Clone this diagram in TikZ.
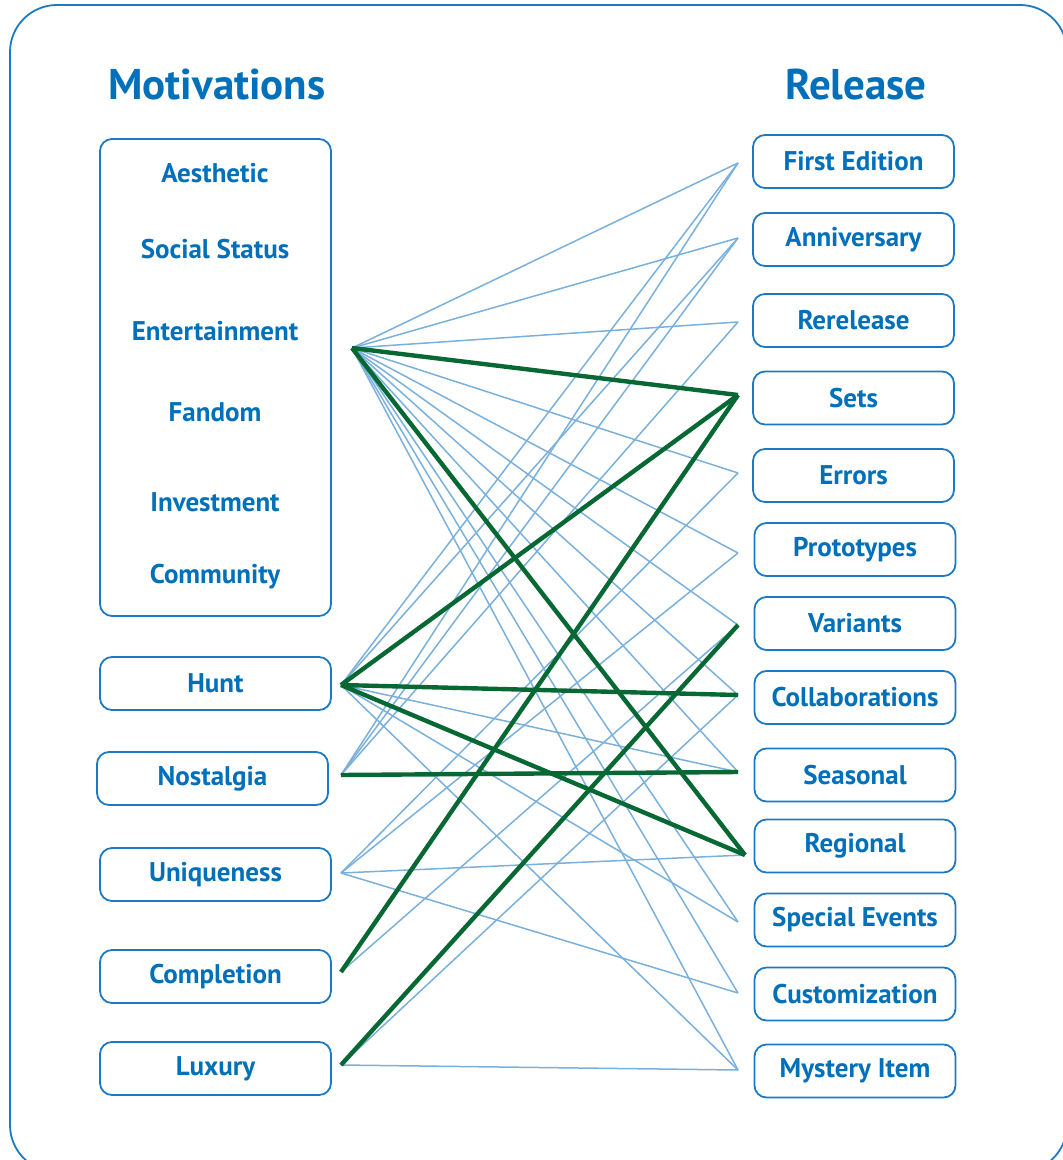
\documentclass[tikz,border=0pt]{standalone}
\usepackage{fontspec}
\setmainfont{PT Sans}
\definecolor{headblue}{RGB}{0,112,186}
\definecolor{boxblue}{RGB}{28,122,196}
\definecolor{linkblue}{RGB}{122,176,220}
\definecolor{linkgreen}{RGB}{8,104,52}
\usetikzlibrary{positioning}

\begin{document}
\begin{tikzpicture}[x=0.5pt,y=-0.5pt,
    head/.style={text=headblue, font=\bfseries\fontsize{21.5}{25}\selectfont},
    label/.style={text=headblue, font=\bfseries\fontsize{13.5}{16}\selectfont},
    item/.style={draw=boxblue, line width=0.9pt, rounded corners=6pt, minimum height=26.5pt, label},
    motitem/.style={item, minimum width=115.5pt},
    relitem/.style={item, minimum width=100.5pt},
    link/.style={draw=linkblue, line width=0.75pt},
    strong/.style={draw=linkgreen, line width=2.2pt}]
    \useasboundingbox (0,0) rectangle (1063,1160);
    % outer frame
    \draw[boxblue, line width=0.9pt, rounded corners=23.5pt] (10,5) rectangle (1067,1172);

    % column heads
    \node[head] (hmot) at (217,85) {Motivations};
    \node[head] (hrel) at (856,85) {Release};

    % grouped motivations
    \node[draw=boxblue, line width=0.9pt, rounded corners=6pt, minimum width=115.5pt, minimum height=238.5pt] (motbox) at (215.5,377.5) {};
    \foreach \n/\t/\y in {aes/Aesthetic/173, soc/Social Status/249, ent/Entertainment/331, fan/Fandom/412, inv/Investment/502, com/Community/577}
        \node[label] (\n) at (215,\y) {\t};
    \coordinate (mot-out) at (352,348);

    % single motivations
    \foreach \n/\t/\x/\y/\a in {hunt/Hunt/215.5/683.5/685, nost/Nostalgia/212.5/778.5/775, uniq/Uniqueness/215.5/874.5/873, comp/Completion/215.5/976.5/972, lux/Luxury/215.5/1068.5/1065} {
        \node[motitem] (\n) at (\x,\y) {\t};
        \coordinate (\n-out) at (341,\a);
    }

    % release types
    \foreach \n/\t/\x/\y/\a in {fe/First Edition/853.5/161.5/163, ann/Anniversary/853.5/239.5/238, rer/Rerelease/853.5/320.5/322, sets/Sets/853.5/398/395, err/Errors/853.5/475.5/473, pro/Prototypes/855/549.5/553, var/Variants/855/623.5/625, col/Collaborations/855/697.5/695, sea/Seasonal/855/775/772, reg/Regional/855/846/855, spe/Special Events/855/920/922, cus/Customization/855/994/993, mys/Mystery Item/855/1071/1070} {
        \node[relitem] (\n) at (\x,\y) {\t};
        \coordinate (\n-in) at (738,\a);
    }
    \coordinate (reg-in) at (745,855);

    % thin links
    \foreach \b in {fe, ann, rer, err, pro, var, col, sea, spe, cus, mys}
        \draw[link] (mot-out) -- (\b-in);
    \foreach \b in {fe, ann, sea, spe, mys}
        \draw[link] (hunt-out) -- (\b-in);
    \foreach \b in {fe, ann, rer}
        \draw[link] (nost-out) -- (\b-in);
    \foreach \b in {err, pro, reg, cus}
        \draw[link] (uniq-out) -- (\b-in);
    \draw[link] (comp-out) -- (var-in);
    \foreach \b in {col, mys}
        \draw[link] (lux-out) -- (\b-in);

    % strong links
    \foreach \a/\b in {mot/sets, mot/reg, hunt/sets, hunt/col, hunt/reg, nost/sea, comp/sets, lux/var}
        \draw[strong] (\a-out) -- (\b-in);
\end{tikzpicture}
\end{document}
